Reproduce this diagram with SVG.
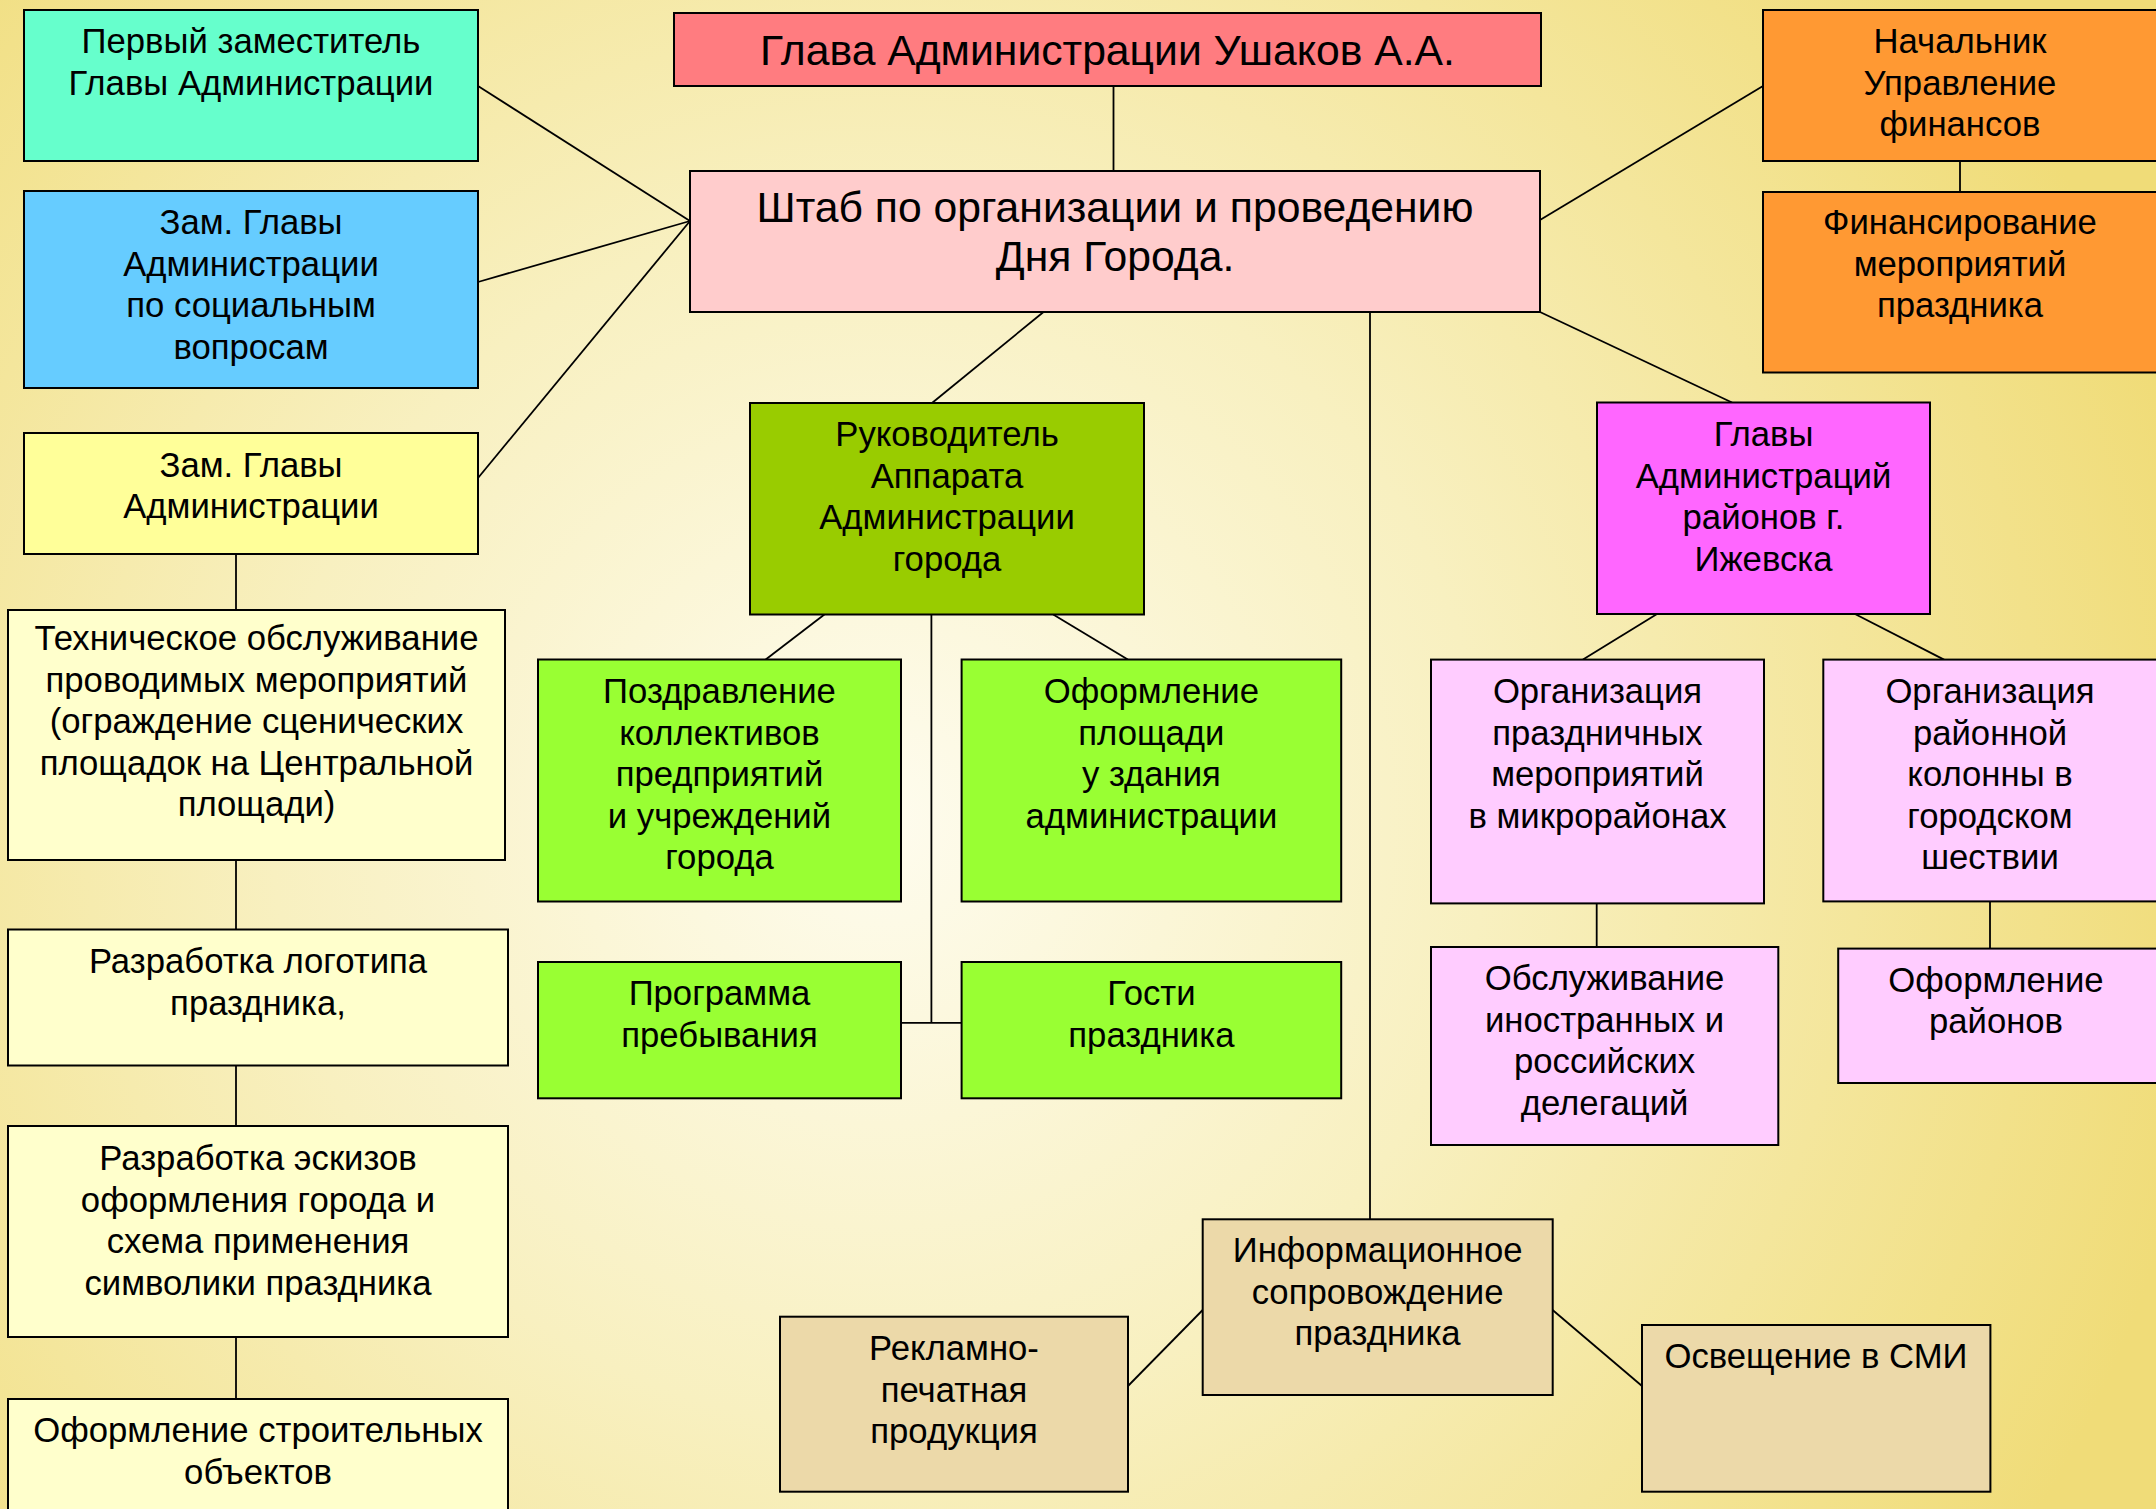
<svg xmlns="http://www.w3.org/2000/svg" width="2156" height="1509" viewBox="0 0 2156 1509">
<defs>
<radialGradient id="bg" cx="880" cy="820" r="1350" gradientUnits="userSpaceOnUse">
<stop offset="0" stop-color="#FEFCEE"/>
<stop offset="0.45" stop-color="#F8F0C0"/>
<stop offset="1" stop-color="#F0DC78"/>
</radialGradient>
<style>
.box{stroke:#000;stroke-width:2}
.t{font-family:"Liberation Sans",Arial,sans-serif;font-size:34.7px;fill:#000;text-anchor:middle}
.big{font-size:42.7px}
.ln{stroke:#000;stroke-width:1.8;fill:none}
</style>
</defs>
<rect x="0" y="0" width="2156" height="1509" fill="url(#bg)"/>

<g id="connectors">
<line class="ln" x1="1113.5" y1="86" x2="1113.5" y2="171"/>
<line class="ln" x1="478" y1="86" x2="690" y2="221"/>
<line class="ln" x1="478" y1="282" x2="690" y2="221"/>
<line class="ln" x1="478" y1="478" x2="690" y2="221"/>
<line class="ln" x1="1540" y1="220" x2="1763" y2="86"/>
<line class="ln" x1="1960" y1="161" x2="1960" y2="192"/>
<line class="ln" x1="1540" y1="312" x2="1732" y2="402.5"/>
<line class="ln" x1="1043.5" y1="312" x2="932" y2="403"/>
<line class="ln" x1="1370" y1="312" x2="1370" y2="1219"/>
<line class="ln" x1="236" y1="554" x2="236" y2="610"/>
<line class="ln" x1="236" y1="860" x2="236" y2="929.5"/>
<line class="ln" x1="236" y1="1066" x2="236" y2="1126"/>
<line class="ln" x1="236" y1="1337" x2="236" y2="1399"/>
<line class="ln" x1="824.4" y1="614.5" x2="765.7" y2="659.5"/>
<line class="ln" x1="1053.2" y1="614.5" x2="1127.8" y2="659.5"/>
<line class="ln" x1="931.4" y1="614.5" x2="931.4" y2="1022.8"/>
<line class="ln" x1="901" y1="1022.8" x2="961.6" y2="1022.8"/>
<line class="ln" x1="1657" y1="614" x2="1583" y2="659.6"/>
<line class="ln" x1="1855" y1="614" x2="1944" y2="659.6"/>
<line class="ln" x1="1596.7" y1="903.4" x2="1596.7" y2="947"/>
<line class="ln" x1="1990" y1="901.4" x2="1990" y2="948.6"/>
<line class="ln" x1="1202.7" y1="1310" x2="1128" y2="1386"/>
<line class="ln" x1="1552.6" y1="1310" x2="1642" y2="1386"/>
</g>

<g id="n_glava">
<rect class="box" x="674" y="13" width="867" height="73" fill="#FF7C80"/>
<text class="t big" x="1107.5" y="65">Глава Администрации Ушаков А.А.</text>
</g>
<g id="n_shtab">
<rect class="box" x="690" y="171" width="850" height="141" fill="#FFCCCC"/>
<text class="t big" x="1115"><tspan x="1115" y="222">Штаб по организации и проведению</tspan><tspan x="1115" y="271">Дня Города.</tspan></text>
</g>
<g id="n_first">
<rect class="box" x="24" y="10" width="454" height="151" fill="#66FFCC"/>
<text class="t"><tspan x="251" y="53">Первый заместитель</tspan><tspan x="251" y="94.5">Главы Администрации</tspan></text>
</g>
<g id="n_social">
<rect class="box" x="24" y="191" width="454" height="197" fill="#66CCFF"/>
<text class="t"><tspan x="251" y="234">Зам. Главы</tspan><tspan x="251" y="275.5">Администрации</tspan><tspan x="251" y="317">по социальным</tspan><tspan x="251" y="358.5">вопросам</tspan></text>
</g>
<g id="n_zam">
<rect class="box" x="24" y="433" width="454" height="121" fill="#FFFF99"/>
<text class="t"><tspan x="251" y="476.5">Зам. Главы</tspan><tspan x="251" y="518">Администрации</tspan></text>
</g>
<g id="n_tech">
<rect class="box" x="8" y="610" width="497" height="250" fill="#FFFFCC"/>
<text class="t"><tspan x="256.5" y="650">Техническое обслуживание</tspan><tspan x="256.5" y="691.5">проводимых мероприятий</tspan><tspan x="256.5" y="733">(ограждение сценических</tspan><tspan x="256.5" y="774.5">площадок на Центральной</tspan><tspan x="256.5" y="816">площади)</tspan></text>
</g>
<g id="n_logo">
<rect class="box" x="8" y="929.5" width="500" height="136" fill="#FFFFCC"/>
<text class="t"><tspan x="258" y="973">Разработка логотипа</tspan><tspan x="258" y="1014.5">праздника,</tspan></text>
</g>
<g id="n_sketch">
<rect class="box" x="8" y="1126" width="500" height="211" fill="#FFFFCC"/>
<text class="t"><tspan x="258" y="1170">Разработка эскизов</tspan><tspan x="258" y="1211.5">оформления города и</tspan><tspan x="258" y="1253">схема применения</tspan><tspan x="258" y="1294.5">символики праздника</tspan></text>
</g>
<g id="n_build">
<rect class="box" x="8" y="1399" width="500" height="130" fill="#FFFFCC"/>
<text class="t"><tspan x="258" y="1442">Оформление строительных</tspan><tspan x="258" y="1483.5">объектов</tspan></text>
</g>
<g id="n_nach">
<rect class="box" x="1763" y="10" width="400" height="151" fill="#FF9933"/>
<text class="t"><tspan x="1960" y="52.6">Начальник</tspan><tspan x="1960" y="94.5">Управление</tspan><tspan x="1960" y="136">финансов</tspan></text>
</g>
<g id="n_fin">
<rect class="box" x="1763" y="192" width="400" height="180.5" fill="#FF9933"/>
<text class="t"><tspan x="1960" y="234">Финансирование</tspan><tspan x="1960" y="275.5">мероприятий</tspan><tspan x="1960" y="317">праздника</tspan></text>
</g>
<g id="n_ruk">
<rect class="box" x="750" y="403" width="394" height="211.5" fill="#99CC00"/>
<text class="t"><tspan x="947" y="446">Руководитель</tspan><tspan x="947" y="487.5">Аппарата</tspan><tspan x="947" y="529">Администрации</tspan><tspan x="947" y="570.5">города</tspan></text>
</g>
<g id="n_pozd">
<rect class="box" x="538" y="659.5" width="363" height="242" fill="#99FF33"/>
<text class="t"><tspan x="719.5" y="703">Поздравление</tspan><tspan x="719.5" y="744.5">коллективов</tspan><tspan x="719.5" y="786">предприятий</tspan><tspan x="719.5" y="827.5">и учреждений</tspan><tspan x="719.5" y="869">города</tspan></text>
</g>
<g id="n_oform">
<rect class="box" x="961.6" y="659.5" width="379.6" height="242" fill="#99FF33"/>
<text class="t"><tspan x="1151.4" y="703">Оформление</tspan><tspan x="1151.4" y="744.5">площади</tspan><tspan x="1151.4" y="786">у здания</tspan><tspan x="1151.4" y="827.5">администрации</tspan></text>
</g>
<g id="n_prog">
<rect class="box" x="538" y="962" width="363" height="136.3" fill="#99FF33"/>
<text class="t"><tspan x="719.5" y="1005">Программа</tspan><tspan x="719.5" y="1046.5">пребывания</tspan></text>
</g>
<g id="n_guests">
<rect class="box" x="961.6" y="962" width="379.6" height="136.3" fill="#99FF33"/>
<text class="t"><tspan x="1151.4" y="1005">Гости</tspan><tspan x="1151.4" y="1046.5">праздника</tspan></text>
</g>
<g id="n_glavy">
<rect class="box" x="1597" y="402.5" width="333" height="211.5" fill="#FF66FF"/>
<text class="t"><tspan x="1763.5" y="446">Главы</tspan><tspan x="1763.5" y="487.5">Администраций</tspan><tspan x="1763.5" y="529">районов г.</tspan><tspan x="1763.5" y="570.5">Ижевска</tspan></text>
</g>
<g id="n_org1">
<rect class="box" x="1431" y="659.6" width="333" height="243.8" fill="#FFCCFF"/>
<text class="t"><tspan x="1597.5" y="703">Организация</tspan><tspan x="1597.5" y="744.5">праздничных</tspan><tspan x="1597.5" y="786">мероприятий</tspan><tspan x="1597.5" y="827.5">в микрорайонах</tspan></text>
</g>
<g id="n_org2">
<rect class="box" x="1823.3" y="659.6" width="340" height="241.8" fill="#FFCCFF"/>
<text class="t"><tspan x="1990" y="703">Организация</tspan><tspan x="1990" y="744.5">районной</tspan><tspan x="1990" y="786">колонны в</tspan><tspan x="1990" y="827.5">городском</tspan><tspan x="1990" y="869">шествии</tspan></text>
</g>
<g id="n_obsl">
<rect class="box" x="1431" y="947" width="347.3" height="198" fill="#FFCCFF"/>
<text class="t"><tspan x="1604.6" y="990">Обслуживание</tspan><tspan x="1604.6" y="1031.5">иностранных и</tspan><tspan x="1604.6" y="1073">российских</tspan><tspan x="1604.6" y="1114.5">делегаций</tspan></text>
</g>
<g id="n_oformr">
<rect class="box" x="1838.2" y="948.6" width="330" height="134.4" fill="#FFCCFF"/>
<text class="t"><tspan x="1996" y="991.6">Оформление</tspan><tspan x="1996" y="1033">районов</tspan></text>
</g>
<g id="n_info">
<rect class="box" x="1202.7" y="1219.3" width="350" height="175.7" fill="#ECD9A9"/>
<text class="t"><tspan x="1377.6" y="1262.3">Информационное</tspan><tspan x="1377.6" y="1303.8">сопровождение</tspan><tspan x="1377.6" y="1345.3">праздника</tspan></text>
</g>
<g id="n_reklama">
<rect class="box" x="780" y="1316.7" width="348" height="175" fill="#ECD9A9"/>
<text class="t"><tspan x="954" y="1360">Рекламно-</tspan><tspan x="954" y="1401.5">печатная</tspan><tspan x="954" y="1443">продукция</tspan></text>
</g>
<g id="n_smi">
<rect class="box" x="1642" y="1325" width="348.4" height="166.7" fill="#ECD9A9"/>
<text class="t" x="1816" y="1368">Освещение в СМИ</text>
</g>
</svg>
